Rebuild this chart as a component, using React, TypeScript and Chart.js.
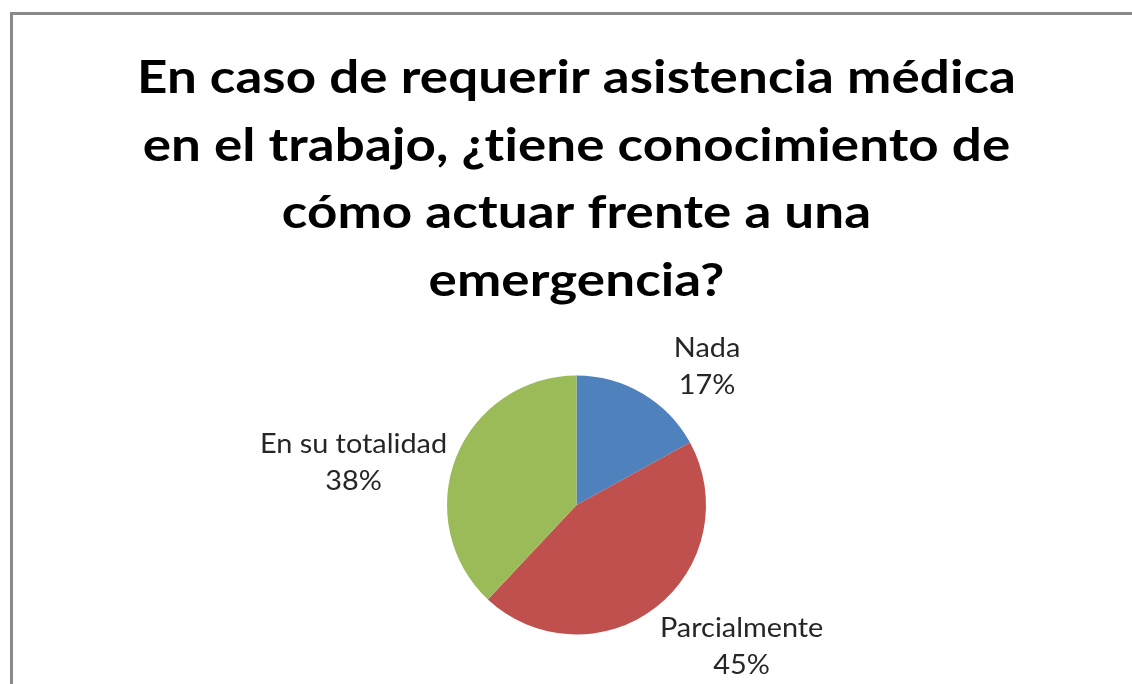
import React, { useEffect, useRef } from "react";
import { Chart, registerables } from "chart.js";

Chart.register(...registerables);

const titleLines = [
  "En caso de requerir asistencia médica",
  "en el trabajo, ¿tiene conocimiento de",
  "cómo actuar frente a una",
  "emergencia?",
];
const categories = ["Nada", "Parcialmente", "En su totalidad"];
const values = [17, 45, 38];
const percentLabels = ["17%", "45%", "38%"];
const colors = ["#4F81BD", "#C0504D", "#9BBB59"];
// label offsets (center x, first-line baseline) relative to the arc's mid-angle edge point
const labelOffsets = [
  [64.6, -36.2],
  [85.8, 30],
  [-102.6, -4],
];

const titlePlugin = {
  id: "stretchedTitle",
  afterDraw(chart: any) {
    const ctx = chart.ctx;
    const cx = (chart.chartArea.left + chart.chartArea.right) / 2;
    ctx.save();
    ctx.font = "bold 46px Lato";
    ctx.fillStyle = "#000000";
    ctx.textAlign = "center";
    ctx.textBaseline = "alphabetic";
    try { (ctx as any).letterSpacing = "0.1px"; } catch (e) {}
    titleLines.forEach((line, i) => {
      ctx.save();
      ctx.translate(cx, 93 + i * 67.7);
      ctx.scale(1.15, 1);
      ctx.fillText(line, 0, 0);
      ctx.restore();
    });
    ctx.restore();
  },
};

const labelPlugin = {
  id: "pieLabels",
  afterDatasetsDraw(chart: any) {
    const ctx = chart.ctx;
    const meta = chart.getDatasetMeta(0);
    ctx.save();
    ctx.font = "26px Lato";
    ctx.fillStyle = "#262626";
    ctx.textAlign = "center";
    ctx.textBaseline = "alphabetic";
    meta.data.forEach((arc: any, i: number) => {
      const p = arc.getProps(["x", "y", "startAngle", "endAngle", "outerRadius"], true);
      const mid = (p.startAngle + p.endAngle) / 2;
      const ex = p.x + Math.cos(mid) * p.outerRadius + labelOffsets[i][0];
      const ey = p.y + Math.sin(mid) * p.outerRadius + labelOffsets[i][1];
      [categories[i], percentLabels[i]].forEach((t, k) => {
        ctx.save();
        ctx.translate(ex, ey + k * 36.5);
        ctx.scale(1.11, 1);
        ctx.fillText(t, 0, 0);
        ctx.restore();
      });
    });
    ctx.restore();
  },
};

export default function App() {
  const ref = useRef<HTMLCanvasElement>(null);
  useEffect(() => {
    if (!ref.current) return;
    const chart = new Chart(ref.current, {
      type: "pie",
      data: {
        labels: categories,
        datasets: [
          {
            data: values,
            backgroundColor: colors,
            borderWidth: 0,
          },
        ],
      },
      options: {
        responsive: false,
        animation: false,
        layout: { padding: { left: 21, right: 0, top: 375.5, bottom: 49.5 } },
        plugins: {
          legend: { display: false },
          tooltip: { enabled: false },
          title: { display: false },
        },
      },
      plugins: [labelPlugin, titlePlugin],
    });
    return () => chart.destroy();
  }, []);
  return (
    <div style={{ position: "fixed", left: 0, top: 0, width: 1132, height: 684, overflow: "hidden", background: "#fff" }}>
      <div
        style={{
          position: "absolute",
          left: 10,
          top: 12,
          width: 1300,
          height: 900,
          borderTop: "3px solid #8a8a8a",
          borderLeft: "3px solid #8a8a8a",
        }}
      />
      <canvas ref={ref} width={1132} height={684} style={{ position: "absolute", left: 0, top: 0 }} />
    </div>
  );
}
